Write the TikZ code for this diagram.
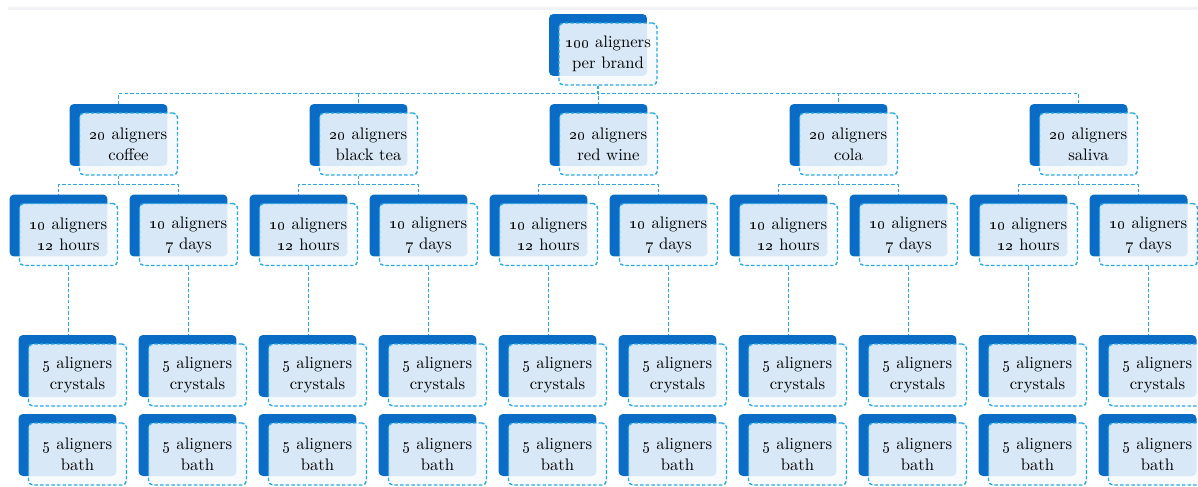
\documentclass[tikz,border=0pt]{standalone}
\usetikzlibrary{shadows,backgrounds}
\definecolor{cardback}{RGB}{10,108,196}
\definecolor{cardline}{RGB}{41,168,230}
\definecolor{cardfront}{RGB}{246,250,253}
\definecolor{topband}{RGB}{242,242,246}
\begin{document}
\begin{tikzpicture}[
                x = 0.02cm, y = -0.02cm,
                card/.style = {draw=cardline, line width=0.8pt, dash pattern=on 2pt off 1.2pt,
                    rounded corners=2.5pt, fill=cardfront, fill opacity=0.88, text opacity=1,
                    align=center, inner sep=0mm, minimum width=1.96cm, minimum height=1.24cm,
                    font=\fontsize{9.5}{12}\selectfont,
                    general shadow={shadow xshift=-2mm, shadow yshift=1.8mm, fill=cardback, fill opacity=1}},
                link/.style = {draw=cardline, line width=0.8pt, dash pattern=on 2pt off 1.2pt},
            ]
            \useasboundingbox (0,0) rectangle (1198,487);
            \fill[topband] (8,7) rectangle (1198,10);

            \node (top) [card] at (608,54) {\oldstylenums{100} aligners\\per brand};

            \foreach \drink [count=\i from 0] in {coffee, black tea, red wine, cola, saliva} {
                \pgfmathsetmacro\cx{128.5+240*\i}
                \node (b\i) [card] at (\cx,144) {\oldstylenums{20} aligners\\\drink};
                \node (h\i) [card] at (\cx-60,234.5) {\oldstylenums{10} aligners\\\oldstylenums{12} hours};
                \node (d\i) [card] at (\cx+60,234.5) {\oldstylenums{10} aligners\\\oldstylenums{7} days};
                \node (hc\i) [card] at (\cx-51,375) {\oldstylenums{5} aligners\\crystals};
                \node (hb\i) [card] at (\cx-51,454) {\oldstylenums{5} aligners\\bath};
                \node (dc\i) [card] at (\cx+69,375) {\oldstylenums{5} aligners\\crystals};
                \node (db\i) [card] at (\cx+69,454) {\oldstylenums{5} aligners\\bath};

                \begin{pgfonlayer}{background}
                    \path[link] ([xshift=-2mm]top.south) -- ++(0,8) -| ([xshift=-2mm]b\i.north);
                    \path[link] ([xshift=-2mm]b\i.south) -- ++(0,9) -| ([xshift=-2mm]h\i.north);
                    \path[link] ([xshift=-2mm]b\i.south) -- ++(0,9) -| ([xshift=-2mm]d\i.north);
                    \path[link] (h\i.south) -- (h\i.south |- hc\i.north);
                    \path[link] (d\i.south) -- (d\i.south |- dc\i.north);
                \end{pgfonlayer}
            }
        \end{tikzpicture}
\end{document}
